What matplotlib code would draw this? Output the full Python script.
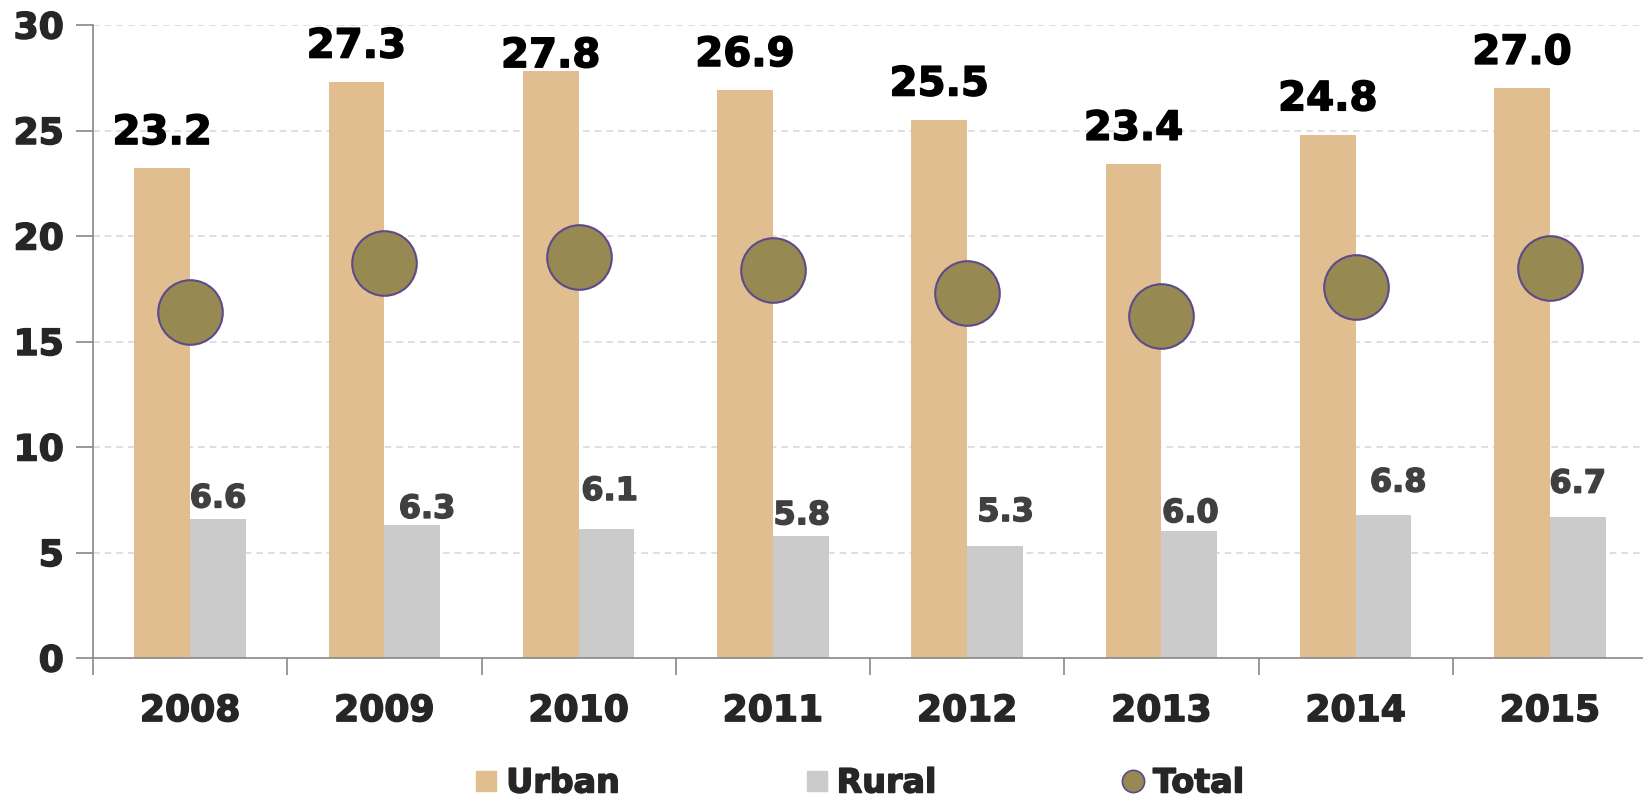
import numpy as np
import matplotlib
matplotlib.use("Agg")
import matplotlib.pyplot as plt
import matplotlib.patheffects as pe
from matplotlib.lines import Line2D

# data
years = ["2008", "2009", "2010", "2011", "2012", "2013", "2014", "2015"]
urban = [23.2, 27.3, 27.8, 26.9, 25.5, 23.4, 24.8, 27.0]
rural = [6.6, 6.3, 6.1, 5.8, 5.3, 6.0, 6.8, 6.7]
total = [16.4, 18.7, 19.0, 18.4, 17.3, 16.2, 17.6, 18.5]

# label nudges (points) to follow the hand-placed labels of the original
urban_dy = [25.5, 25.5, 11, 25.5, 25.5, 25.5, 25.5, 25.5]
rural_dy = [14.3, 11.3, 27.2, 14.3, 24.2, 12.8, 22.7, 23.4]
rural_dx = [0, 10.6, 2.3, 0.8, 7.6, 0.8, 10.6, 0]

c_urban = "#E0BE90"
c_rural = "#CBCBCB"
c_total = "#968A52"
c_edge = "#5E4A8A"
c_text = "#262626"


def heavy(color):
    # thicken the bold glyphs a little, the original font is heavier
    return [pe.withStroke(linewidth=1.1, foreground=color)]


plt.rcParams["font.family"] = ["DejaVu Sans"]
plt.rcParams["font.weight"] = "bold"

fig = plt.figure(figsize=(16.43, 8.01), dpi=100)
ax = fig.add_axes([93 / 1643, 1 - 658 / 801, 1554 / 1643, (658 - 25) / 801])

x = np.arange(len(years))
w = 0.287
ax.bar(x - w / 2, urban, w, color=c_urban, linewidth=0, zorder=2)
ax.bar(x + w / 2, rural, w, color=c_rural, linewidth=0, zorder=2)
ax.plot(x, total, "o", ms=46.5, mfc=c_total, mec=c_edge, mew=1.5, zorder=3,
        linestyle="none")

for i in range(len(years)):
    ax.annotate(f"{urban[i]:.1f}", (x[i] - w / 2, urban[i]),
                xytext=(0, urban_dy[i]), textcoords="offset points",
                ha="center", va="center", fontsize=29, fontweight="bold",
                color="black", zorder=4, path_effects=heavy("black"))
    ax.annotate(f"{rural[i]:.1f}", (x[i] + w / 2, rural[i]),
                xytext=(rural_dx[i], rural_dy[i]), textcoords="offset points",
                ha="center", va="center", fontsize=23, fontweight="bold",
                color="#404040", zorder=4, path_effects=heavy("#404040"))

ax.set_xlim(-0.5, len(years) - 0.5)
ax.set_ylim(0, 30)
ax.set_yticks([0, 5, 10, 15, 20, 25, 30])
ax.set_xticks(x)
ax.set_xticklabels(years)
ax.set_xticks(np.arange(-0.5, len(years)), minor=True)
ax.tick_params(axis="x", which="major", length=0, pad=26, labelsize=26,
               labelcolor=c_text)
ax.tick_params(axis="x", which="minor", length=12, width=1.2, color="#888888")
ax.tick_params(axis="y", length=12, width=1.2, color="#888888", pad=9,
               labelsize=26, labelcolor=c_text)
for t in ax.get_xticklabels() + ax.get_yticklabels():
    t.set_fontweight("bold")
    t.set_path_effects(heavy(c_text))

ax.yaxis.grid(True, color="#D9D9D9", linestyle=(0, (4, 3)), linewidth=1.2, zorder=0)
ax.set_axisbelow(True)
for s in ["top", "right"]:
    ax.spines[s].set_visible(False)
for s in ["left", "bottom"]:
    ax.spines[s].set_color("#888888")
    ax.spines[s].set_linewidth(1.2)
# no grid line on the baseline
ax.get_ygridlines()[0].set_visible(False)

handles = [
    Line2D([], [], marker="s", linestyle="none", ms=15, mfc=c_urban, mec=c_urban),
    Line2D([], [], marker="s", linestyle="none", ms=15, mfc=c_rural, mec=c_rural),
    Line2D([], [], marker="o", linestyle="none", ms=16, mfc=c_total, mec=c_edge, mew=1.2),
]
leg = fig.legend(handles, ["Urban", "Rural", "Total"], loc="center",
                 bbox_to_anchor=(0.5225, 0.0225), ncol=3, frameon=False,
                 prop={"size": 24, "weight": "bold"}, labelcolor=c_text,
                 handlelength=0.8, handletextpad=0.2, columnspacing=5.5,
                 borderpad=0)
for t in leg.get_texts():
    t.set_path_effects(heavy(c_text))

fig.savefig("out.png", dpi=100)
